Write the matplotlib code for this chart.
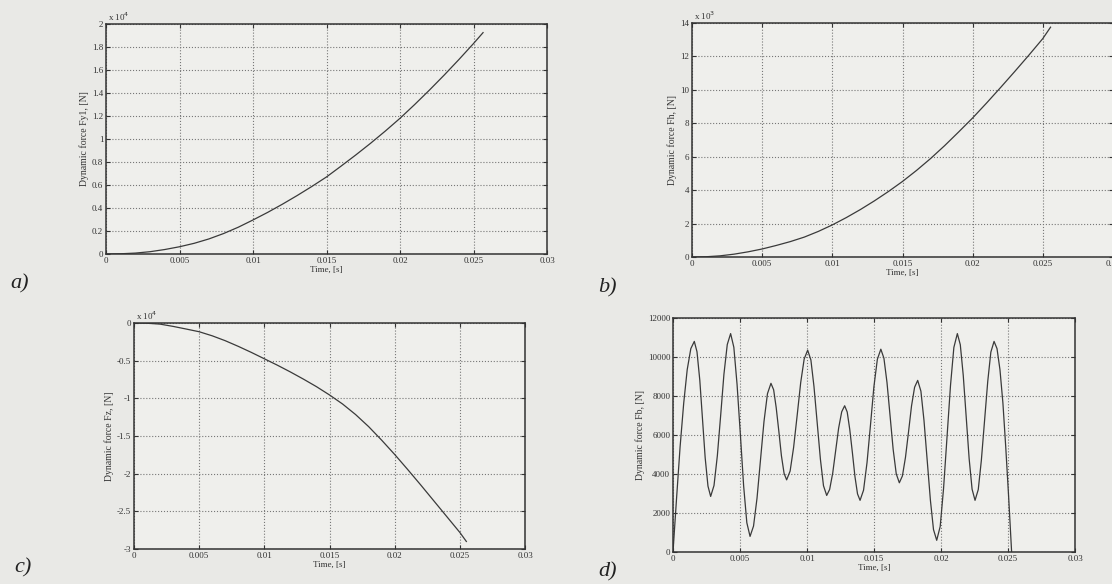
import matplotlib.pyplot as plt
import numpy as np

plt.rcParams['font.family'] = ['Liberation Serif', 'DejaVu Serif']

# a) Fy1, x 10^4 N
t_a = [0, 0.001, 0.002, 0.003, 0.004, 0.005, 0.006, 0.007, 0.008, 0.009, 0.010,
       0.011, 0.012, 0.013, 0.014, 0.015, 0.016, 0.017, 0.018, 0.019, 0.020,
       0.021, 0.022, 0.023, 0.024, 0.025, 0.02565]
f_a = [0, 0.002, 0.008, 0.02, 0.039, 0.063, 0.093, 0.131, 0.178, 0.233, 0.296,
       0.362, 0.433, 0.508, 0.587, 0.67, 0.765, 0.862, 0.963, 1.069, 1.18,
       1.30, 1.425, 1.555, 1.69, 1.83, 1.925]

# b) Fh, x 10^3 N
t_b = [0, 0.001, 0.002, 0.003, 0.004, 0.005, 0.006, 0.007, 0.008, 0.009, 0.010,
       0.011, 0.012, 0.013, 0.014, 0.015, 0.016, 0.017, 0.018, 0.019, 0.020,
       0.021, 0.022, 0.023, 0.024, 0.025, 0.02555]
f_b = [0, 0.015, 0.07, 0.17, 0.31, 0.48, 0.69, 0.92, 1.19, 1.53, 1.92,
       2.36, 2.84, 3.36, 3.92, 4.52, 5.18, 5.89, 6.66, 7.48, 8.32,
       9.22, 10.15, 11.1, 12.07, 13.07, 13.75]

# c) Fz, x 10^4 N
t_c = [0, 0.001, 0.002, 0.003, 0.004, 0.005, 0.006, 0.007, 0.008, 0.009, 0.010,
       0.011, 0.012, 0.013, 0.014, 0.015, 0.016, 0.017, 0.018, 0.019, 0.020,
       0.021, 0.022, 0.023, 0.024, 0.025, 0.0255]
f_c = [0, -0.003, -0.015, -0.045, -0.08, -0.116, -0.17, -0.235, -0.31, -0.39, -0.475,
       -0.56, -0.65, -0.745, -0.845, -0.955, -1.075, -1.215, -1.375, -1.555, -1.745,
       -1.945, -2.15, -2.36, -2.57, -2.78, -2.9]

# d) Fb, N
t_d = [0, 0.00027, 0.00053, 0.0008, 0.00106, 0.00133, 0.00159,
       0.00179, 0.0020, 0.0022, 0.0024, 0.00261, 0.00281,
       0.00306, 0.00331, 0.00356, 0.0038, 0.00405, 0.0043,
       0.00454, 0.00478, 0.00503, 0.00527, 0.00551, 0.00575,
       0.00601, 0.00627, 0.00653, 0.00679, 0.00705, 0.00731,
       0.00751, 0.0077, 0.0079, 0.00809, 0.00829, 0.00848,
       0.00874, 0.009, 0.00927, 0.00953, 0.00979, 0.01005,
       0.01029, 0.01052, 0.01076, 0.011, 0.01123, 0.01147,
       0.01169, 0.01192, 0.01214, 0.01236, 0.01259, 0.01281,
       0.013, 0.01319, 0.01339, 0.01358, 0.01377, 0.01396,
       0.01422, 0.01448, 0.01474, 0.01499, 0.01525, 0.01551,
       0.01574, 0.01597, 0.0162, 0.01643, 0.01666, 0.01689,
       0.01712, 0.01735, 0.01758, 0.0178, 0.01803, 0.01826,
       0.0185, 0.01873, 0.01897, 0.01921, 0.01944, 0.01968,
       0.01994, 0.02019, 0.02045, 0.02071, 0.02096, 0.02122,
       0.02144, 0.02166, 0.02188, 0.0221, 0.02232, 0.02254,
       0.02278, 0.02301, 0.02325, 0.02349, 0.02372, 0.02396,
       0.02418, 0.0244, 0.02462, 0.02483, 0.02505, 0.02527]
f_d = [0, 2800, 5400, 7640, 9350, 10430, 10800,
       10270, 8810, 6830, 4840, 3380, 2850,
       3410, 4940, 7030, 9110, 10640, 11200,
       10500, 8600, 6000, 3400, 1500, 800,
       1330, 2760, 4730, 6690, 8120, 8650,
       8320, 7410, 6180, 4940, 4030, 3700,
       4150, 5360, 7030, 8690, 9900, 10350,
       9850, 8490, 6630, 4760, 3400, 2900,
       3210, 4050, 5200, 6350, 7190, 7500,
       7180, 6290, 5080, 3860, 2980, 2650,
       3170, 4590, 6530, 8460, 9880, 10400,
       9940, 8690, 6980, 5260, 4010, 3550,
       3900, 4860, 6180, 7490, 8450, 8800,
       8250, 6750, 4700, 2650, 1150, 600,
       1310, 3250, 5900, 8550, 10490, 11200,
       10630, 9060, 6930, 4790, 3220, 2650,
       3200, 4690, 6730, 8760, 10250, 10800,
       10430, 9350, 7640, 5400, 2800, 0]

x_ticks = [0, 0.005, 0.01, 0.015, 0.02, 0.025, 0.03]
x_labels = ['0', '0.005', '0.01', '0.015', '0.02', '0.025', '0.03']

W, H = 1112, 584
fig = plt.figure(figsize=(W / 100, H / 100), dpi=100, facecolor='#e9e9e6')


def box(x0, y0, x1, y1):
    return [x0 / W, 1 - y1 / H, (x1 - x0) / W, (y1 - y0) / H]


def setup(ax, ylim, yticks, ylabels, ylab, expo):
    ax.set_facecolor('#efefec')
    ax.set_xlim(0, 0.03)
    ax.set_ylim(*ylim)
    ax.set_xticks(x_ticks)
    ax.set_xticklabels(x_labels)
    ax.set_yticks(yticks)
    ax.set_yticklabels(ylabels)
    ax.tick_params(direction='in', length=3, width=0.8, labelsize=6.5,
                   colors='#333333', top=True, right=True, pad=2)
    ax.grid(True, linestyle=':', color='#777777', linewidth=0.8)
    for s in ax.spines.values():
        s.set_color('#333333')
        s.set_linewidth(1.1)
    ax.set_xlabel('Time, [s]', fontsize=6.5, color='#333333', labelpad=1)
    ax.set_ylabel(ylab, fontsize=7, color='#333333', labelpad=2)
    if expo:
        ax.text(0.005, 1.005, expo, transform=ax.transAxes, fontsize=6.5,
                color='#333333', va='bottom', ha='left')


line_kw = dict(color='#3a3a3a', linewidth=0.9)

ax_a = fig.add_axes(box(106, 24, 547, 254))
ax_a.plot(t_a, f_a, **line_kw)
yt = [0, 0.2, 0.4, 0.6, 0.8, 1, 1.2, 1.4, 1.6, 1.8, 2]
setup(ax_a, (0, 2), yt, ['0', '0.2', '0.4', '0.6', '0.8', '1', '1.2', '1.4', '1.6', '1.8', '2'],
      'Dynamic force Fy1, [N]', r'x 10$^4$')

ax_b = fig.add_axes(box(692, 23, 1113, 257))
ax_b.plot(t_b, f_b, **line_kw)
yt = [0, 2, 4, 6, 8, 10, 12, 14]
setup(ax_b, (0, 14), yt, [str(v) for v in yt], 'Dynamic force Fh, [N]', r'x 10$^3$')

ax_c = fig.add_axes(box(134, 323, 525, 549))
ax_c.plot(t_c, f_c, **line_kw)
yt = [-3, -2.5, -2, -1.5, -1, -0.5, 0]
setup(ax_c, (-3, 0), yt, ['-3', '-2.5', '-2', '-1.5', '-1', '-0.5', '0'],
      'Dynamic force Fz, [N]', r'x 10$^4$')

ax_d = fig.add_axes(box(673, 318, 1075, 552))
ax_d.plot(t_d, f_d, **line_kw)
yt = [0, 2000, 4000, 6000, 8000, 10000, 12000]
setup(ax_d, (0, 12000), yt, [str(v) for v in yt], 'Dynamic force Fb, [N]', None)

lab_kw = dict(fontsize=16, style='italic', color='#222222', va='center', ha='left')
fig.text(10 / W, 1 - 284 / H, 'a)', **lab_kw)
fig.text(598 / W, 1 - 288 / H, 'b)', **lab_kw)
fig.text(14 / W, 1 - 568 / H, 'c)', **lab_kw)
fig.text(598 / W, 1 - 572 / H, 'd)', **lab_kw)

fig.savefig('out.png', dpi=100, facecolor=fig.get_facecolor())
